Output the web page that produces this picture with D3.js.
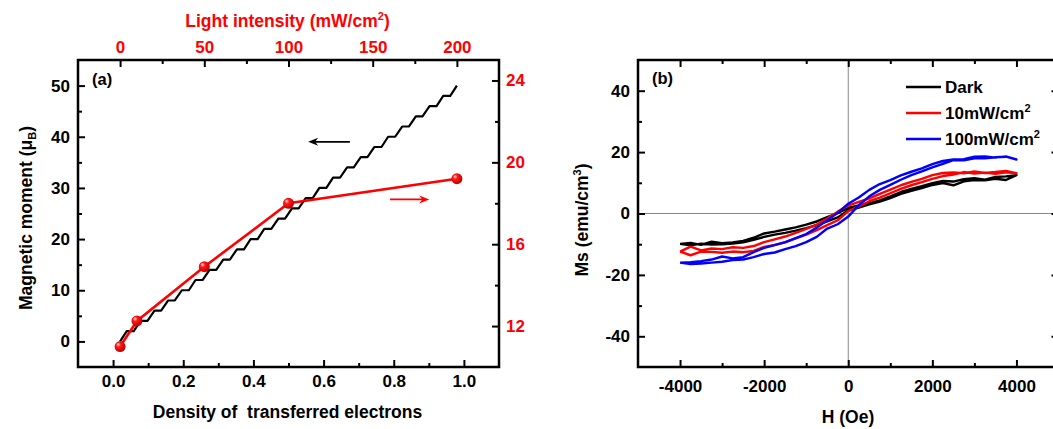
<!DOCTYPE html>
<html>
<head>
<meta charset="utf-8">
<script src="https://cdn.jsdelivr.net/npm/d3@7"></script>
<style>
  body { margin: 0; background: #fff; }
  svg text { font-family: Arial, "Liberation Sans", sans-serif; font-weight: bold; }
</style>
</head>
<body>
<svg id="chart" width="1053" height="429"></svg>
<script>
// (a) magnetic moment vs density of transferred electrons
const density = [0.020, 0.039, 0.059, 0.078, 0.098, 0.118, 0.137, 0.157, 0.176, 0.196,
  0.216, 0.235, 0.255, 0.275, 0.294, 0.314, 0.333, 0.353, 0.373, 0.392,
  0.412, 0.431, 0.451, 0.471, 0.490, 0.510, 0.529, 0.549, 0.569, 0.588,
  0.608, 0.627, 0.647, 0.667, 0.686, 0.706, 0.725, 0.745, 0.765, 0.784,
  0.804, 0.824, 0.843, 0.863, 0.882, 0.902, 0.922, 0.941, 0.961, 0.980];
const moment = [0, 2, 2, 4, 4, 6, 6, 8, 8, 10, 10, 12, 12, 14, 14, 16, 16, 18, 18, 20,
  20, 22, 22, 24, 24, 26, 26, 28, 28, 30, 30, 32, 32, 34, 34, 36, 36, 38, 38, 40,
  40, 42, 42, 44, 44, 46, 46, 48, 48, 50];

// (a) red series on the top / right axes
const intensity = [0, 10, 50, 100, 200];
const intensityValue = [11.0, 12.25, 14.9, 18.0, 19.2];

const densityTicks = [0, 0.2, 0.4, 0.6, 0.8, 1.0];
const intensityTicks = [0, 50, 100, 150, 200];
const momentTicks = [0, 10, 20, 30, 40, 50];
const rightTicks = [12, 16, 20, 24];

// (b) hysteresis loops, field in Oe, up = ascending branch, down = descending branch
const field = [-4000, -3750, -3500, -3250, -3000, -2750, -2500, -2250, -2000, -1750, -1500,
  -1250, -1000, -750, -500, -250, 0, 250, 500, 750, 1000, 1250, 1500, 1750, 2000,
  2250, 2500, 2750, 3000, 3250, 3500, 3750, 4000];
const darkUp = [-9.9, -10.4, -9.8, -10.1, -10.0, -9.8, -9.4, -8.6, -7.6, -6.9, -6.3, -5.6, -4.8,
  -3.8, -2.6, -1.3, 1.0, 1.9, 3.0, 3.9, 5.0, 6.4, 7.4, 8.3, 9.3, 9.9, 9.2, 10.5, 10.9, 10.8,
  11.3, 10.9, 12.5];
const darkDown = [-9.9, -9.6, -10.2, -9.2, -9.7, -9.4, -8.9, -7.9, -6.5, -5.9, -5.2, -4.5, -3.6,
  -2.6, -1.2, 0.1, 1.8, 2.6, 3.4, 4.3, 5.6, 7.0, 8.0, 8.9, 9.9, 10.6, 10.4, 11.2, 11.5, 11.0,
  11.9, 12.1, 12.5];
const redUp = [-12.4, -13.6, -12.4, -12.5, -12.8, -12.4, -12.6, -12.2, -10.9, -10.2, -9.4, -8.1,
  -6.9, -5.4, -3.8, -2.2, 0.8, 2.3, 4.0, 5.2, 6.6, 8.0, 9.2, 10.2, 11.3, 12.2, 12.7, 13.5,
  13.0, 13.3, 12.9, 13.4, 13.1];
const redDown = [-12.4, -10.8, -12.0, -11.4, -11.6, -11.0, -11.2, -10.6, -9.3, -8.4, -7.5, -6.3,
  -5.0, -3.6, -1.6, 0.6, 2.6, 3.8, 4.9, 6.4, 7.8, 9.2, 10.3, 11.3, 12.5, 13.2, 13.4, 13.1,
  13.7, 13.2, 13.5, 13.9, 13.1];
const blueUp = [-16.0, -16.5, -16.3, -16.0, -15.7, -15.2, -15.0, -14.2, -13.2, -12.7, -11.6, -10.6,
  -9.3, -7.6, -4.9, -3.5, -1.0, 2.7, 5.6, 7.7, 9.3, 11.0, 12.5, 13.7, 15.0, 16.2, 17.4, 17.3,
  18.0, 18.0, 18.3, 18.5, 17.6];
const blueDown = [-16.0, -15.9, -15.5, -15.0, -14.0, -14.6, -14.2, -12.6, -11.2, -10.3, -9.3, -8.0,
  -6.7, -4.6, -2.2, 0.2, 3.2, 5.2, 7.7, 9.6, 10.9, 12.4, 13.6, 14.7, 16.1, 17.1, 17.6, 17.7,
  18.5, 18.6, 18.2, 18.6, 17.6];

const fieldTicks = [-4000, -2000, 0, 2000, 4000];
const msTicks = [-40, -20, 0, 20, 40];

const svg = d3.select('#chart');
const A = {left: 78, right: 499, top: 60, bottom: 367};
const B = {left: 638, right: 1058.5, top: 60, bottom: 367};

const xA = d3.scaleLinear().domain([-0.1, 1.1]).range([A.left, A.right]);
const xTop = d3.scaleLinear().domain([-25, 225]).range([A.left, A.right]);
const yA = d3.scaleLinear().domain([-5, 55]).range([A.bottom, A.top]);
const yRight = d3.scaleLinear().domain([10, 25]).range([A.bottom, A.top]);
const xB = d3.scaleLinear().domain([-5000, 5000]).range([B.left, B.right]);
const yB = d3.scaleLinear().domain([-50, 50]).range([B.bottom, B.top]);

// inward major + minor ticks, no domain path
function addAxis(axisGen, scale, transform, majors, minors, fmt, pad, color) {
  const g = svg.append('g').attr('transform', transform);
  g.append('g').call(axisGen(scale).tickValues(minors).tickSize(-4).tickFormat(''));
  g.append('g').call(axisGen(scale).tickValues(majors).tickSize(-7).tickPadding(pad).tickFormat(fmt));
  g.selectAll('.domain').remove();
  g.selectAll('.tick line').attr('stroke', '#000').attr('stroke-width', 2);
  g.selectAll('.tick text').attr('fill', color || '#000').style('font-size', '17px');
  return g;
}
const none = () => '';
const plain = d => String(d);

// sphere marker gradient
const grad = svg.append('defs').append('radialGradient')
  .attr('id', 'ball').attr('cx', '40%').attr('cy', '40%').attr('r', '60%').attr('fx', '32%').attr('fy', '30%');
grad.append('stop').attr('offset', '0%').attr('stop-color', '#ffe0e0');
grad.append('stop').attr('offset', '35%').attr('stop-color', '#ff1a1a');
grad.append('stop').attr('offset', '100%').attr('stop-color', '#c00000');

// ---------- panel (a) ----------
addAxis(d3.axisBottom, xA, `translate(0,${A.bottom})`, densityTicks, [0.1, 0.3, 0.5, 0.7, 0.9], d => d.toFixed(1), 8);
addAxis(d3.axisTop, xTop, `translate(0,${A.top})`, intensityTicks, [25, 75, 125, 175], plain, 7, '#ff0000');
addAxis(d3.axisLeft, yA, `translate(${A.left},0)`, momentTicks, [5, 15, 25, 35, 45], plain, 8);
addAxis(d3.axisRight, yRight, `translate(${A.right},0)`, rightTicks, [14, 18, 22], plain, 7, '#ff0000');

const stair = d3.line().x((d, i) => xA(density[i])).y(d => yA(d));
svg.append('path').attr('d', stair(moment))
  .attr('fill', 'none').attr('stroke', '#000').attr('stroke-width', 2.2).attr('stroke-linejoin', 'round');

const redLine = d3.line().x((d, i) => xTop(intensity[i])).y(d => yRight(d));
svg.append('path').attr('d', redLine(intensityValue))
  .attr('fill', 'none').attr('stroke', '#ff0000').attr('stroke-width', 2.6);
svg.selectAll('.ball').data(intensityValue).enter().append('circle')
  .attr('class', 'ball')
  .attr('cx', (d, i) => xTop(intensity[i])).attr('cy', d => yRight(d))
  .attr('r', 5.5).attr('fill', 'url(#ball)');

// arrows pointing to each axis
function arrow(x1, x2, y, color) {
  const dir = Math.sign(x2 - x1);
  svg.append('line').attr('x1', x1).attr('x2', x2 - dir * 6).attr('y1', y).attr('y2', y)
    .attr('stroke', color).attr('stroke-width', 1.8);
  svg.append('path')
    .attr('d', `M${x2},${y} L${x2 - dir * 10},${y - 4} L${x2 - dir * 7},${y} L${x2 - dir * 10},${y + 4} Z`)
    .attr('fill', color);
}
arrow(xA(0.675), xA(0.556), yA(39.0), '#000');
arrow(xTop(160.3), xTop(183.6), yRight(18.19), '#ff0000');

svg.append('rect').attr('x', A.left).attr('y', A.top)
  .attr('width', A.right - A.left).attr('height', A.bottom - A.top)
  .attr('fill', 'none').attr('stroke', '#000').attr('stroke-width', 2.5);

svg.append('text').attr('x', 92).attr('y', 85).style('font-size', '16.5px').text('(a)');

const topTitle = svg.append('text').attr('x', 287.5).attr('y', 27)
  .attr('text-anchor', 'middle').attr('fill', '#ff0000').style('font-size', '17.5px');
topTitle.append('tspan').text('Light intensity (mW/cm');
topTitle.append('tspan').attr('dy', -7).style('font-size', '11px').text('2');
topTitle.append('tspan').attr('dy', 7).text(')');

svg.append('text').attr('x', 287.5).attr('y', 418).attr('text-anchor', 'middle')
  .style('font-size', '17.5px').style('white-space', 'pre').text('Density of  transferred electrons');

const leftTitle = svg.append('text').attr('transform', 'translate(32,218) rotate(-90)')
  .attr('text-anchor', 'middle').style('font-size', '17.5px');
leftTitle.append('tspan').text('Magnetic moment (\u03bc');
leftTitle.append('tspan').attr('dy', 4).style('font-size', '11px').text('B');
leftTitle.append('tspan').attr('dy', -4).text(')');

// ---------- panel (b) ----------
svg.append('line').attr('x1', B.left).attr('x2', B.right).attr('y1', yB(0)).attr('y2', yB(0))
  .attr('stroke', '#888').attr('stroke-width', 1);
svg.append('line').attr('x1', xB(0)).attr('x2', xB(0)).attr('y1', B.top).attr('y2', B.bottom)
  .attr('stroke', '#888').attr('stroke-width', 1);

addAxis(d3.axisBottom, xB, `translate(0,${B.bottom})`, fieldTicks, [-3000, -1000, 1000, 3000], plain, 13);
addAxis(d3.axisTop, xB, `translate(0,${B.top})`, fieldTicks, [-3000, -1000, 1000, 3000], none, 7);
addAxis(d3.axisLeft, yB, `translate(${B.left},0)`, msTicks, [-30, -10, 10, 30], plain, 8);
addAxis(d3.axisRight, yB, `translate(${B.right},0)`, msTicks, [-30, -10, 10, 30], none, 7);

const loops = [
  {name: 'Dark', color: '#000000', up: darkUp, down: darkDown},
  {name: '10mW/cm', color: '#ff0000', up: redUp, down: redDown},
  {name: '100mW/cm', color: '#0000ff', up: blueUp, down: blueDown}
];
const loopLine = d3.line().x(d => xB(d[0])).y(d => yB(d[1]));
loops.forEach(s => {
  const pts = field.map((h, i) => [h, s.up[i]])
    .concat(field.map((h, i) => [h, s.down[i]]).reverse());
  svg.append('path').attr('d', loopLine(pts))
    .attr('fill', 'none').attr('stroke', s.color).attr('stroke-width', 2.4).attr('stroke-linejoin', 'round');
});

svg.append('rect').attr('x', B.left).attr('y', B.top)
  .attr('width', B.right - B.left).attr('height', B.bottom - B.top)
  .attr('fill', 'none').attr('stroke', '#000').attr('stroke-width', 2.5);

svg.append('text').attr('x', 652).attr('y', 84).style('font-size', '16.5px').text('(b)');

const legend = svg.append('g');
loops.forEach((s, i) => {
  const y = 87 + i * 26;
  legend.append('line').attr('x1', 906).attr('x2', 941).attr('y1', y).attr('y2', y)
    .attr('stroke', s.color).attr('stroke-width', 2.4);
  const t = legend.append('text').attr('x', 945).attr('y', y + 6).style('font-size', '17px');
  t.append('tspan').text(s.name);
  if (i > 0) t.append('tspan').attr('dy', -7).style('font-size', '11px').text('2');
});

svg.append('text').attr('x', 848).attr('y', 423).attr('text-anchor', 'middle')
  .style('font-size', '17.5px').text('H (Oe)');

const msTitle = svg.append('text').attr('transform', 'translate(588,220) rotate(-90)')
  .attr('text-anchor', 'middle').style('font-size', '17.5px');
msTitle.append('tspan').text('Ms (emu/cm');
msTitle.append('tspan').attr('dy', -7).style('font-size', '11px').text('3');
msTitle.append('tspan').attr('dy', 7).text(')');
</script>
</body>
</html>
